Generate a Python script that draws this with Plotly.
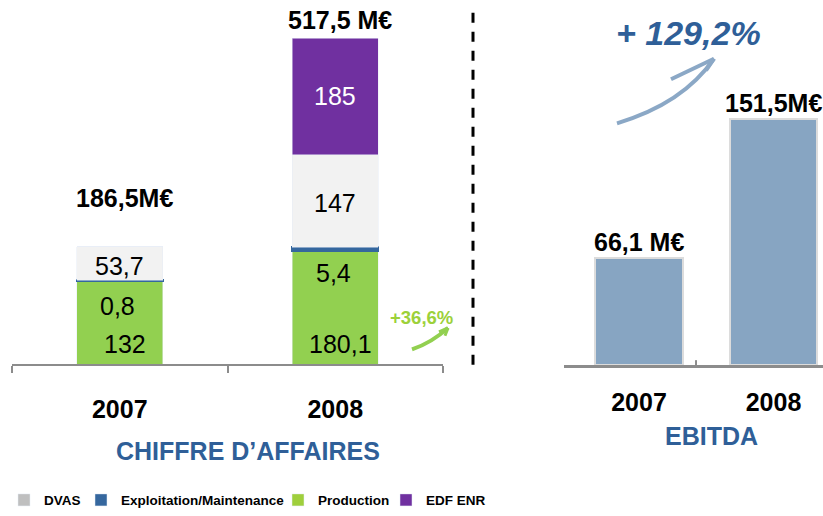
import plotly.graph_objects as go

# ---------------- data ----------------
years = ["2007", "2008"]
production = [132, 180.1]
exploitation = [0.8, 5.4]
dvas = [53.7, 147]
edf_enr = [0, 185]
ca_total_labels = ["186,5M€", "517,5 M€"]
ca_totals = [186.5, 517.5]
ebitda = [66.1, 151.5]
ebitda_labels = ["66,1 M€", "151,5M€"]
growth_ca = "+36,6%"
growth_ebitda = "+ 129,2%"
series_names = ["DVAS", "Exploitation/Maintenance", "Production", "EDF ENR"]

# ---------------- styling ----------------
W, H = 823, 516
FONT = "Liberation Sans, Arial, sans-serif"
C_PROD = "#92D050"
C_EXPL = "#35679E"
C_DVAS = "#F2F2F2"
C_EDF = "#7030A0"
C_EBITDA = "#87A5C2"
C_TITLE = "#2F5F98"
C_AXIS = "#8C8C8C"
legend_colors = {"DVAS": "#BFBFBF", "Exploitation/Maintenance": C_EXPL,
                 "Production": "#9FCF3C", "EDF ENR": C_EDF}
legend_widths = {"DVAS": 32, "Exploitation/Maintenance": 152, "Production": 63, "EDF ENR": 60}


def fr(v):
    return f"{v:g}".replace(".", ",")


def px(x):
    return x / W


def py(y):
    return 1 - y / H


fig = go.Figure()

BW = 0.4
fig.add_trace(go.Bar(x=years, y=production, marker_color=C_PROD, width=BW,
                     showlegend=False, xaxis="x", yaxis="y", name="Production"))
fig.add_trace(go.Bar(x=years, y=exploitation, marker=dict(color=C_EXPL, line=dict(color=C_EXPL, width=2)),
                     width=BW, showlegend=False, xaxis="x", yaxis="y", name="Exploitation/Maintenance"))
fig.add_trace(go.Bar(x=years, y=dvas, marker_color=C_DVAS, width=BW,
                     showlegend=False, xaxis="x", yaxis="y", name="DVAS"))
fig.add_trace(go.Bar(x=years, y=edf_enr, marker_color=C_EDF, width=BW,
                     showlegend=False, xaxis="x", yaxis="y", name="EDF ENR"))

fig.add_trace(go.Bar(x=years, y=ebitda, width=0.654,
                     marker=dict(color=C_EBITDA, line=dict(color="#DCDCDC", width=2)),
                     showlegend=False, xaxis="x2", yaxis="y2", name="EBITDA"))

for n in series_names:
    fig.add_trace(go.Bar(x=[None], y=[None], name=n, marker_color=legend_colors[n],
                         xaxis="x", yaxis="y", showlegend=True, legendwidth=legend_widths[n]))

ann = []
for i, yr in enumerate(years):
    base_expl = production[i] + exploitation[i]
    ann.append(dict(x=i, y=0, xref="x", yref="y", text=fr(production[i]), showarrow=False,
                    xanchor="center", yanchor="middle", yshift=20, xshift=5,
                    font=dict(family=FONT, size=25, color="black")))
    ann.append(dict(x=i, y=base_expl, xref="x", yref="y", text=fr(exploitation[i]), showarrow=False,
                    xanchor="center", yanchor="middle", yshift=-26, xshift=-2,
                    font=dict(family=FONT, size=25, color="black")))
    ann.append(dict(x=i, y=base_expl + dvas[i] / 2, xref="x", yref="y", text=fr(dvas[i]), showarrow=False,
                    xanchor="center", yanchor="middle", yshift=-2,
                    font=dict(family=FONT, size=25, color="black")))
    if edf_enr[i]:
        ann.append(dict(x=i, y=base_expl + dvas[i] + edf_enr[i] / 2, xref="x", yref="y",
                        text=fr(edf_enr[i]), showarrow=False, xanchor="center", yanchor="middle",
                        font=dict(family=FONT, size=25, color="white")))
tot_shift = [49, 18]
for i, yr in enumerate(years):
    ann.append(dict(x=i, y=ca_totals[i], xref="x", yref="y", text=ca_total_labels[i], showarrow=False,
                    xanchor="center", yanchor="middle", yshift=tot_shift[i], xshift=5,
                    font=dict(family=FONT, size=25, color="black", weight="bold")))
    ann.append(dict(x=i, y=ebitda[i], xref="x2", yref="y2", text=ebitda_labels[i], showarrow=False,
                    xanchor="center", yanchor="middle", yshift=16,
                    font=dict(family=FONT, size=25, color="black", weight="bold")))

ann.append(dict(x=px(248), y=py(461), xref="paper", yref="paper", text="CHIFFRE D’AFFAIRES",
                xanchor="center", yanchor="middle", showarrow=False,
                font=dict(family=FONT, size=25, color=C_TITLE, weight="bold")))
ann.append(dict(x=px(711), y=py(445), xref="paper", yref="paper", text="EBITDA",
                xanchor="center", yanchor="middle", showarrow=False,
                font=dict(family=FONT, size=25, color=C_TITLE, weight="bold")))
ann.append(dict(x=px(421), y=py(324), xref="paper", yref="paper", text=growth_ca,
                xanchor="center", yanchor="middle", showarrow=False,
                font=dict(family=FONT, size=18.5, color="#9CD13A", weight="bold")))
ann.append(dict(x=px(688), y=py(34), xref="paper", yref="paper", text=growth_ebitda,
                xanchor="center", yanchor="middle", showarrow=False,
                font=dict(family=FONT, size=34, color=C_TITLE, weight="bold", style="italic")))


def pth(cmds):
    out = []
    for tok in cmds:
        out.append(tok if isinstance(tok, str) else f"{px(tok[0]):.5f},{py(tok[1]):.5f}")
    return " ".join(out)


shapes = [
    dict(type="line", xref="paper", yref="paper", x0=px(473), x1=px(473), y0=py(13), y1=py(378),
         line=dict(color="black", width=3, dash="10px,9px")),
    dict(type="line", xref="x2", yref="paper", x0=0.424, x1=0.424, y0=py(373), y1=py(368),
         line=dict(color=C_AXIS, width=2)),
    dict(type="path", xref="paper", yref="paper",
         path=pth(["M", (412, 357), "Q", (432, 350), (448, 335)]),
         line=dict(color=C_PROD, width=4)),
    dict(type="path", xref="paper", yref="paper",
         path=pth(["M", (448, 335), "L", (439, 339), "M", (448, 335), "L", (445, 343)]),
         line=dict(color=C_PROD, width=3)),
    dict(type="path", xref="paper", yref="paper",
         path=pth(["M", (617, 126), "Q", (683, 106), (714, 60)]),
         line=dict(color="#8BA8C6", width=4)),
    dict(type="path", xref="paper", yref="paper",
         path=pth(["M", (714, 60), "L", (671, 81), "M", (714, 60), "L", (706, 72)]),
         line=dict(color="#8BA8C6", width=4)),
]

fig.update_layout(
    width=W, height=H,
    margin=dict(l=0, r=0, t=0, b=0),
    paper_bgcolor="white", plot_bgcolor="white",
    barmode="stack",
    font=dict(family=FONT, color="black"),
    xaxis=dict(domain=[px(12), px(443)], type="category", range=[-0.5, 1.5],
               showline=True, linecolor=C_AXIS, linewidth=2, ticks="outside", ticklen=7,
               tickcolor=C_AXIS, tickwidth=2, tickson="boundaries", showgrid=False, zeroline=False,
               tickfont=dict(family=FONT, size=25, color="black", weight="bold"),
               ticklabelstandoff=22),
    yaxis=dict(domain=[py(372), py(39)], range=[0, 517.5], visible=False),
    xaxis2=dict(domain=[px(564), 1], type="category", range=[-0.5576, 1.368], anchor="y2",
                showline=True, linecolor=C_AXIS, linewidth=2.5, ticks="", showgrid=False, zeroline=False,
                tickfont=dict(family=FONT, size=25, color="black", weight="bold"),
                ticklabelstandoff=13),
    yaxis2=dict(domain=[py(373), py(373 - 160 * 1.66)], range=[0, 160], visible=False, anchor="x2"),
    legend=dict(orientation="h", x=px(4), y=py(511), xanchor="left", yanchor="middle",
                font=dict(family=FONT, size=13.5, color="black", weight="bold"),
                bgcolor="rgba(0,0,0,0)", itemwidth=30, traceorder="normal"),
    annotations=ann,
    shapes=shapes,
)

fig.write_html(
    "out.html", config={"displayModeBar": False},
    post_script=("document.documentElement.style.margin='0px';"
                 "document.body.style.margin='0px';"
                 "document.documentElement.style.overflow='hidden';"
                 "document.body.style.overflow='hidden';"),
)
